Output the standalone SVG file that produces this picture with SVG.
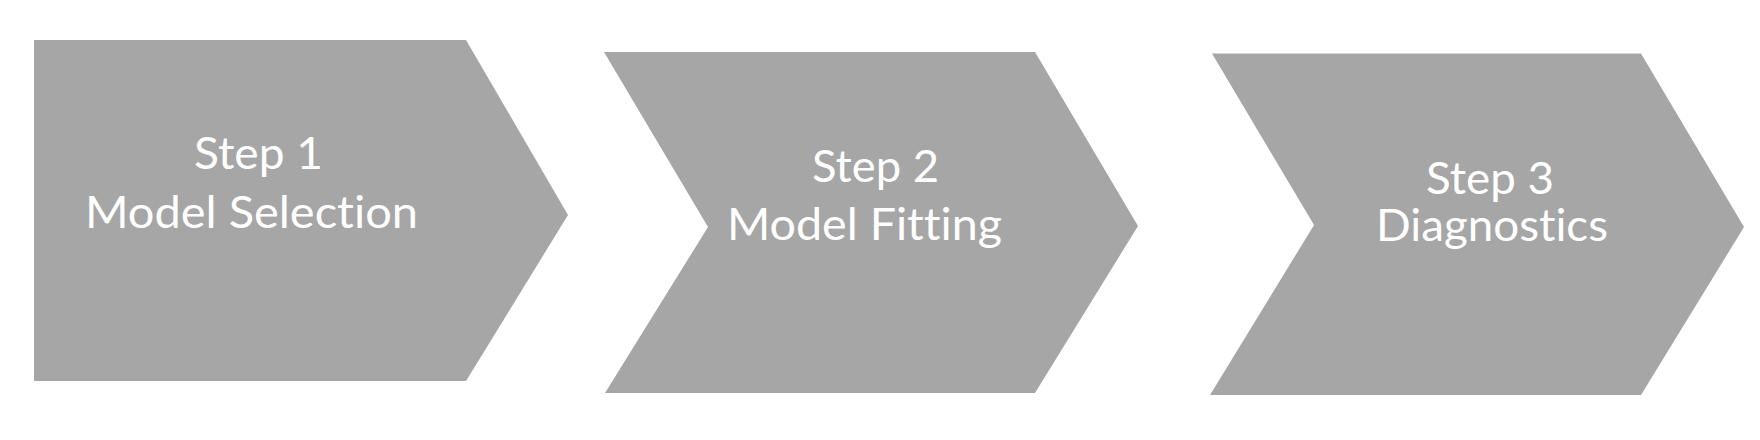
<svg xmlns="http://www.w3.org/2000/svg" width="1760" height="440" viewBox="0 0 1760 440">
<style>
.shape{fill:#A6A6A6;stroke:none}
.lbl{font-family:Lato,"Open Sans","Liberation Sans",sans-serif;font-size:44px;fill:#FFFFFF;text-anchor:middle;font-variant-ligatures:none;font-feature-settings:"liga" 0,"clig" 0,"dlig" 0}
</style>
<rect width="1760" height="440" fill="#FFFFFF"/>
<g id="step1">
<polygon class="shape" points="34,40 466,40 568,215 466,381 34,381"/>
<text class="lbl" x="258.5" y="169" textLength="129" lengthAdjust="spacingAndGlyphs">Step 1</text>
<text class="lbl" x="251.5" y="228" textLength="333" lengthAdjust="spacingAndGlyphs">Model Selection</text>
</g>
<g id="step2">
<polygon class="shape" points="604,52 1035,52 1138,226 1035,393 605,393 708,227"/>
<text class="lbl" x="875.5" y="181.5" textLength="127" lengthAdjust="spacingAndGlyphs">Step 2</text>
<text class="lbl" x="864.5" y="239.5" textLength="275" lengthAdjust="spacingAndGlyphs">Model Fitting</text>
</g>
<g id="step3">
<polygon class="shape" points="1212,53.5 1641,53.5 1744,227 1641,395 1210,395 1314,225"/>
<text class="lbl" x="1490" y="194" textLength="128" lengthAdjust="spacingAndGlyphs">Step 3</text>
<text class="lbl" x="1492" y="241" textLength="232" lengthAdjust="spacingAndGlyphs">Diagnostics</text>
</g>
<g id="connectors"></g>
</svg>
